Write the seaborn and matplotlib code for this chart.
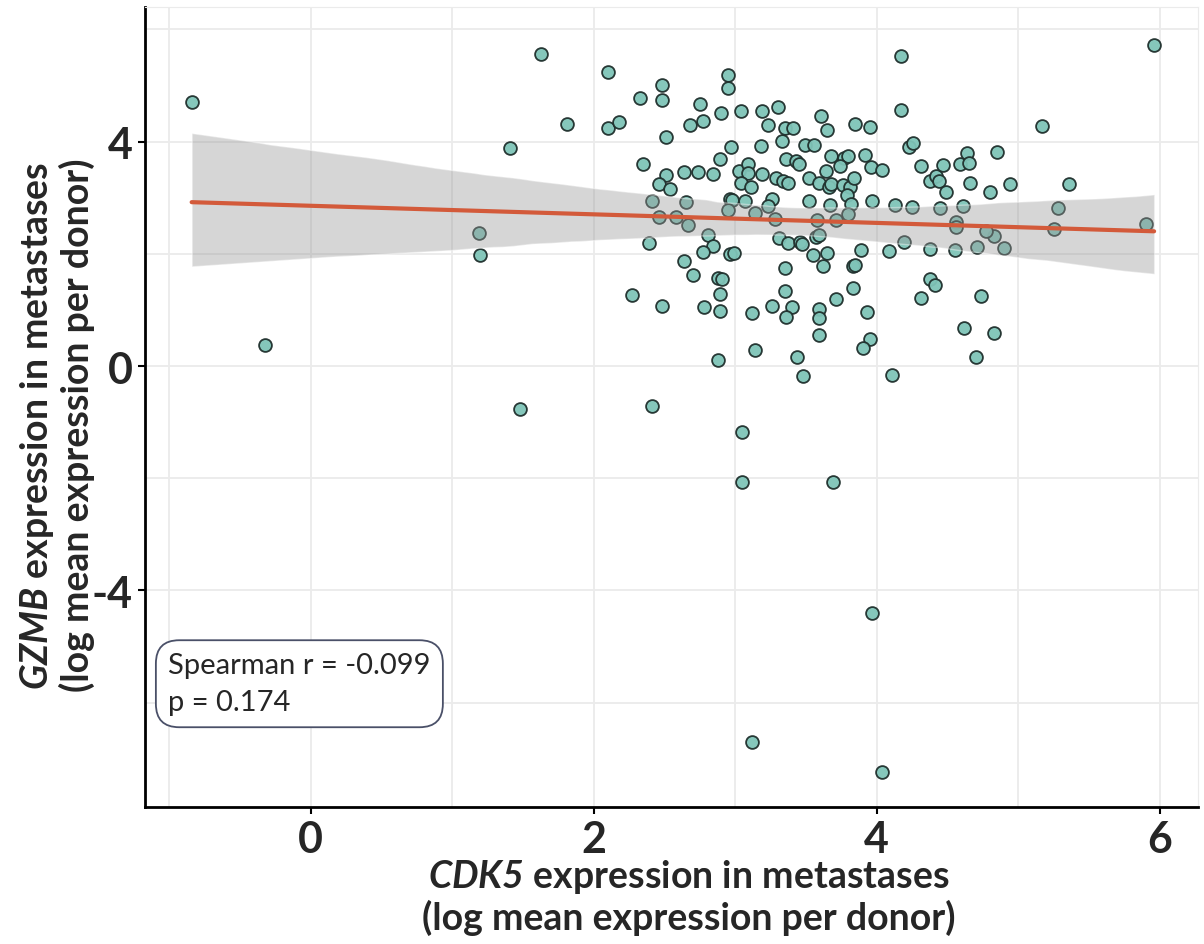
import numpy as np
import pandas as pnd
import seaborn as sns
import matplotlib.pyplot as plt

# valeurs (log mean expression per donor)
x_cdk5 = [-0.84, -0.32, 1.63, 1.41, 1.19, 1.20, 1.48,
          1.81, 2.10, 2.10, 2.18, 2.33, 2.48, 2.48, 2.51, 2.35, 2.75, 2.68, 2.77, 2.90, 2.95,
          2.95, 3.04, 3.19, 3.23, 3.30, 3.33, 2.97, 3.18, 2.89, 2.64, 2.74, 2.84, 2.51, 2.46,
          2.54, 3.03, 3.09, 3.09, 3.04, 3.11, 3.19, 3.29, 2.41, 2.65, 2.96, 2.98, 3.07, 2.95,
          3.14, 3.26, 3.23, 2.46, 2.58, 2.67, 3.28,
          4.17, 4.17, 3.35, 3.41, 3.61, 3.65, 3.85, 3.95, 3.49, 3.56, 3.36, 3.43, 3.45, 3.68,
          3.77, 3.80, 3.74, 3.92, 3.96, 4.04, 3.64, 3.34, 3.37, 3.52, 3.59, 3.66, 3.68, 3.76,
          3.81, 3.84, 3.79, 3.52, 3.67, 3.82, 3.97, 4.13, 4.25, 4.45, 4.61, 3.80, 3.58, 3.71,
          4.56, 4.23, 4.26, 4.31, 4.38, 4.42, 4.44, 4.47, 4.49, 4.59, 4.64, 4.65, 4.66, 4.80, 4.85,
          5.96, 5.17, 4.94, 5.36, 5.28, 5.25, 5.90, 4.83, 4.90,
          2.81, 2.39, 2.84, 2.77, 2.96, 2.99, 2.64, 2.70, 2.88, 2.91, 2.27, 2.48, 2.89, 2.78,
          2.89, 3.12, 3.26, 3.14, 2.88,
          3.31, 3.37, 3.46, 3.47, 3.57, 3.59, 3.55, 3.65, 3.89, 4.09, 4.19, 4.38, 4.55, 4.71,
          4.77, 4.56, 3.35, 3.62, 3.83, 3.85, 3.35, 3.83, 3.71, 3.40, 3.36, 3.59, 3.59, 3.93,
          3.59, 3.95, 3.90, 3.44, 3.48, 4.11, 4.31, 4.38, 4.41, 4.74, 4.62, 4.83, 4.70,
          2.41, 3.05, 3.05, 3.69, 3.97, 3.12, 4.04]
y_gzmb = [4.71, 0.37, 5.56, 3.88, 2.37, 1.98, -0.77,
          4.32, 5.25, 4.25, 4.35, 4.78, 5.01, 4.75, 4.09, 3.61, 4.67, 4.29, 4.37, 4.51, 5.19,
          4.96, 4.55, 4.55, 4.29, 4.62, 4.01, 3.91, 3.92, 3.69, 3.46, 3.46, 3.43, 3.40, 3.25,
          3.16, 3.48, 3.60, 3.44, 3.27, 3.19, 3.42, 3.36, 2.95, 2.93, 2.97, 2.96, 2.95, 2.79,
          2.73, 2.97, 2.86, 2.65, 2.65, 2.52, 2.62,
          5.52, 4.56, 4.25, 4.24, 4.46, 4.21, 4.31, 4.27, 3.94, 3.94, 3.69, 3.65, 3.60, 3.74,
          3.71, 3.74, 3.56, 3.76, 3.55, 3.50, 3.47, 3.29, 3.26, 3.35, 3.27, 3.20, 3.24, 3.23,
          3.19, 3.35, 3.05, 2.95, 2.87, 2.88, 2.94, 2.87, 2.83, 2.82, 2.86, 2.71, 2.60, 2.60,
          2.57, 3.90, 3.98, 3.57, 3.30, 3.39, 3.29, 3.58, 3.11, 3.61, 3.79, 3.62, 3.26, 3.11, 3.82,
          5.72, 4.28, 3.24, 3.24, 2.82, 2.45, 2.54, 2.32, 2.11,
          2.33, 2.19, 2.14, 2.04, 2.00, 2.02, 1.88, 1.63, 1.57, 1.56, 1.27, 1.07, 1.28, 1.06,
          0.99, 0.94, 1.07, 0.29, 0.10,
          2.28, 2.20, 2.21, 2.18, 2.30, 2.33, 1.98, 2.01, 2.06, 2.05, 2.22, 2.09, 2.06, 2.12,
          2.40, 2.48, 1.75, 1.78, 1.79, 1.81, 1.34, 1.40, 1.19, 1.05, 0.87, 1.01, 0.86, 0.96,
          0.56, 0.48, 0.33, 0.16, -0.17, -0.16, 1.21, 1.55, 1.44, 1.25, 0.67, 0.59, 0.16,
          -0.72, -1.18, -2.07, -2.07, -4.41, -6.70, -7.24]
stat_text = "Spearman r = -0.099\np = 0.174"

df = pnd.DataFrame({'CDK5': x_cdk5, 'GZMB': y_gzmb})

sns.set_style('white')
plt.rcParams['font.family'] = ['Lato', 'DejaVu Sans']
plt.rcParams['axes.unicode_minus'] = False
plt.rcParams['mathtext.fontset'] = 'custom'
plt.rcParams['mathtext.bfit'] = 'Lato:italic:bold'
plt.rcParams['mathtext.it'] = 'Lato:italic'

fig = plt.figure(figsize=(12.04, 9.45), dpi=100)
ax = fig.add_axes([0.1204, 0.145, 0.8746, 0.8465])

# grille
for gx in range(-1, 7):
    ax.axvline(gx, color='#ebebeb', lw=1.3, zorder=0)
for gy in range(-6, 7, 2):
    ax.axhline(gy, color='#ebebeb', lw=1.3, zorder=0)

sns.regplot(data=df, x='CDK5', y='GZMB', ax=ax, seed=3,
            scatter_kws=dict(s=85, color='#7fc4b8', edgecolor='#1f2f2c', linewidths=1.3, alpha=0.95),
            line_kws=dict(color='#d35a3a', lw=3))
band = ax.collections[-1]
band.set_facecolor('#999999')
band.set_alpha(0.4)

ax.set_xlim(-1.17, 6.27)
ax.set_ylim(-7.86, 6.4)
ax.set_xticks([0, 2, 4, 6])
ax.set_yticks([-4, 0, 4])
ax.tick_params(axis='both', labelsize=31, length=5, width=1.5, color='black', left=True, bottom=True, pad=4)
for lab in ax.get_xticklabels() + ax.get_yticklabels():
    lab.set_fontweight('bold')

for s in ['top', 'right']:
    ax.spines[s].set_color('#ebebeb')
for s in ['left', 'bottom']:
    ax.spines[s].set_color('black')
    ax.spines[s].set_linewidth(2)

ax.set_xlabel(r'$\mathbfit{CDK5}$ expression in metastases' + '\n(log mean expression per donor)',
              fontsize=27, fontweight='bold', linespacing=1.1)
ax.set_ylabel(r'$\mathbfit{GZMB}$ expression in metastases' + '\n(log mean expression per donor)',
              fontsize=27, fontweight='bold', linespacing=1.1)
ax.xaxis.set_label_coords(0.516, -0.063)
ax.yaxis.set_label_coords(-0.047, 0.478)

ax.text(0.022, 0.115, stat_text, transform=ax.transAxes, fontsize=21, va='bottom', ha='left',
        linespacing=1.5,
        bbox=dict(boxstyle='round,pad=0.42,rounding_size=0.8', fc='white', ec='#4a5068', lw=1.3))

fig.savefig('out.png', dpi=100)
